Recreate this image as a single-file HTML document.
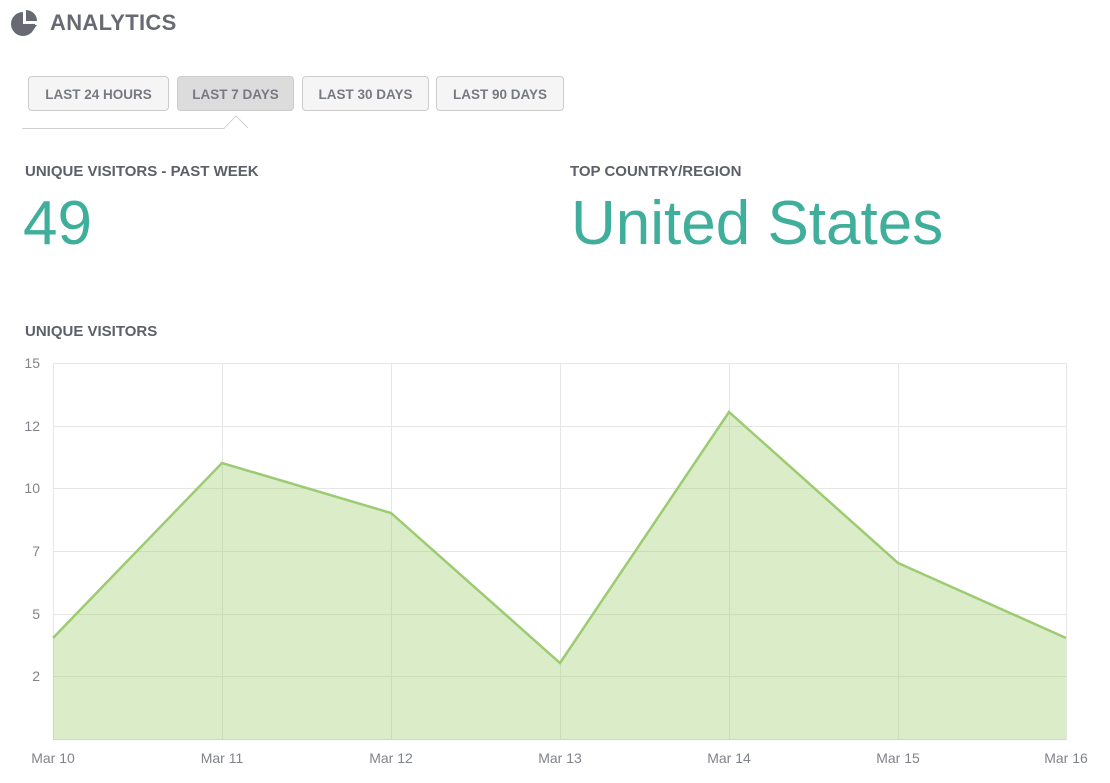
<!DOCTYPE html>
<html><head><meta charset="utf-8"><style>
body{margin:0;width:1110px;height:783px;background:#fff;font-family:"Liberation Sans",sans-serif;position:relative;overflow:hidden}
.a{position:absolute}
.btn{position:absolute;top:76px;height:35px;border:1px solid #ccc;border-radius:4px;background:#f5f5f5;color:#777a80;font-size:13.5px;font-weight:bold;line-height:35px;text-align:center;box-sizing:border-box}
.h{font-size:15px;font-weight:bold;color:#5d6068}
.big{color:#3fae9a;font-size:62px;line-height:1}
</style></head><body>
<svg class="a" style="left:11px;top:10px" width="28" height="26" viewBox="0 0 28 26">
<path d="M12 2 A12 12 0 1 0 24 14 L12 14 Z" fill="#676a72"/>
<path d="M15 0 A11 11 0 0 1 26 11 L15 11 Z" fill="#676a72"/>
<path d="M15 15 L26 15 L20 23 Z" fill="#676a72"/>
</svg>
<div class="a" style="left:50px;top:10px;font-size:22px;font-weight:bold;color:#676a72;letter-spacing:0.3px">ANALYTICS</div>
<div class="btn" style="left:28px;width:141px">LAST 24 HOURS</div>
<div class="btn" style="left:177px;width:117px;background:#dcdcdc">LAST 7 DAYS</div>
<div class="btn" style="left:302px;width:127px">LAST 30 DAYS</div>
<div class="btn" style="left:436px;width:128px">LAST 90 DAYS</div>
<svg class="a" style="left:0;top:112px" width="300" height="20"><polyline points="22,16.5 224,16.5 236,4 248,16" fill="none" stroke="#d0d0d0" stroke-width="1"/><polygon points="225,16 236,5 247,16" fill="#fff"/></svg>
<div class="a h" style="left:25px;top:163px">UNIQUE VISITORS - PAST WEEK</div>
<div class="a big" style="left:23px;top:193px">49</div>
<div class="a h" style="left:570px;top:163px">TOP COUNTRY/REGION</div>
<div class="a big" style="left:571px;top:193px">United States</div>
<div class="a h" style="left:25px;top:323px">UNIQUE VISITORS</div>
<svg class="a" style="left:0;top:0" width="1110" height="783">
<g stroke="#e6e6e6" stroke-width="1">
<line x1="53" y1="363.5" x2="1066" y2="363.5"/>
<line x1="53" y1="426.5" x2="1066" y2="426.5"/>
<line x1="53" y1="488.5" x2="1066" y2="488.5"/>
<line x1="53" y1="551.5" x2="1066" y2="551.5"/>
<line x1="53" y1="614.5" x2="1066" y2="614.5"/>
<line x1="53" y1="676.5" x2="1066" y2="676.5"/>
<line x1="53" y1="739.5" x2="1066" y2="739.5"/>
<line x1="53.5" y1="363" x2="53.5" y2="740"/>
<line x1="222.5" y1="363" x2="222.5" y2="740"/>
<line x1="391.5" y1="363" x2="391.5" y2="740"/>
<line x1="560.5" y1="363" x2="560.5" y2="740"/>
<line x1="729.5" y1="363" x2="729.5" y2="740"/>
<line x1="898.5" y1="363" x2="898.5" y2="740"/>
<line x1="1066.5" y1="363" x2="1066.5" y2="740"/>
</g>
<polygon points="53,638 222,463 391,513 560,663 729,412 898,563 1066,638 1066,740 53,740" fill="rgba(160,205,110,0.38)"/>
<polyline points="53,638 222,463 391,513 560,663 729,412 898,563 1066,638" fill="none" stroke="#9ccb72" stroke-width="2.5"/>
<g font-size="14" fill="#808389" text-anchor="end" font-family="Liberation Sans,sans-serif">
<text x="40" y="368">15</text><text x="40" y="431">12</text><text x="40" y="493">10</text>
<text x="40" y="556">7</text><text x="40" y="619">5</text><text x="40" y="681">2</text>
</g>
<g font-size="14" fill="#808389" text-anchor="middle" font-family="Liberation Sans,sans-serif">
<text x="53" y="763">Mar 10</text><text x="222" y="763">Mar 11</text><text x="391" y="763">Mar 12</text>
<text x="560" y="763">Mar 13</text><text x="729" y="763">Mar 14</text><text x="898" y="763">Mar 15</text><text x="1066" y="763">Mar 16</text>
</g>
</svg>
</body></html>
